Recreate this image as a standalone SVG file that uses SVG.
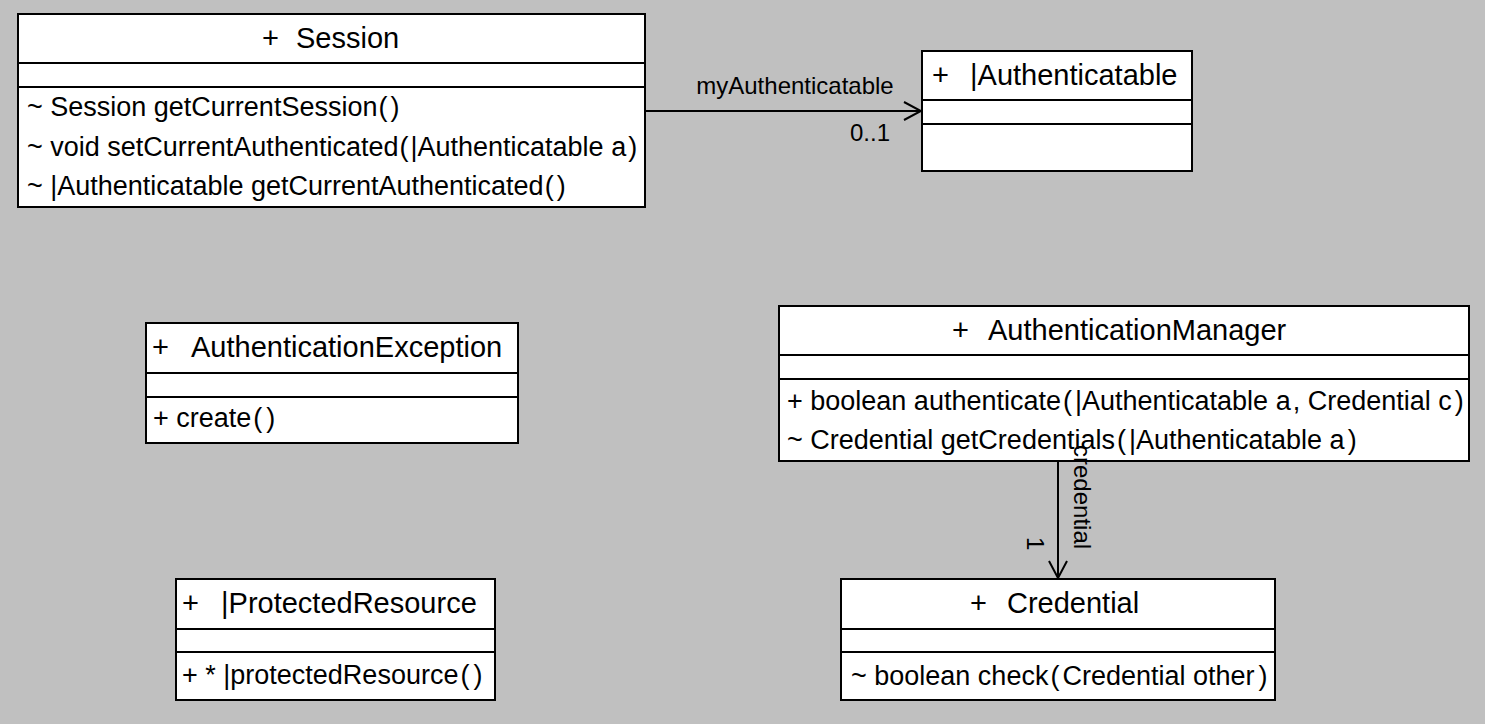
<svg xmlns="http://www.w3.org/2000/svg" width="1485" height="724" viewBox="0 0 1485 724">
<style>
.box{fill:#fff;stroke:#000;stroke-width:2}
.div{stroke:#000;stroke-width:2}
.t{font-family:"Liberation Sans",Arial,sans-serif;font-size:29px;fill:#000}
.m{font-family:"Liberation Sans",Arial,sans-serif;font-size:27px;fill:#000}
.l{font-family:"Liberation Sans",Arial,sans-serif;font-size:24px;fill:#000}
.c{stroke:#000;stroke-width:2;fill:none}
</style>
<defs>
<marker id="open" viewBox="0 0 20 20" refX="18" refY="10" markerWidth="20" markerHeight="20" markerUnits="userSpaceOnUse" orient="auto">
<path d="M1,1 L18,10 L1,19" fill="none" stroke="#000" stroke-width="2"/>
</marker>
</defs>
<rect width="1485" height="724" fill="#c0c0c0"/>
<g id="Session">
<rect class="box" x="18" y="14" width="627" height="193"/>
<line class="div" x1="18" y1="63" x2="645" y2="63"/>
<line class="div" x1="18" y1="87" x2="645" y2="87"/>
<text class="t" x="262" y="48">+ <tspan x="296">Session</tspan></text>
<text class="m" x="27" y="116">~ Session getCurrentSession<tspan dx="1">(</tspan><tspan dx="3">)</tspan></text>
<text class="m" x="27" y="156">~ void setCurrentAuthenticated<tspan dx="1">(</tspan><tspan dx="2">|Authenticatable a</tspan><tspan dx="2">)</tspan></text>
<text class="m" x="27" y="195">~ |Authenticatable getCurrentAuthenticated<tspan dx="1">(</tspan><tspan dx="3">)</tspan></text>
</g>
<g id="Authenticatable">
<rect class="box" x="922" y="51" width="270" height="120"/>
<line class="div" x1="922" y1="100" x2="1192" y2="100"/>
<line class="div" x1="922" y1="124" x2="1192" y2="124"/>
<text class="t" x="932" y="85">+ <tspan x="970">|Authenticatable</tspan></text>
</g>
<g id="AuthenticationException">
<rect class="box" x="146" y="323" width="372" height="120"/>
<line class="div" x1="146" y1="373" x2="518" y2="373"/>
<line class="div" x1="146" y1="397" x2="518" y2="397"/>
<text class="t" x="152" y="357">+ <tspan x="191">AuthenticationException</tspan></text>
<text class="m" x="153" y="427">+ create<tspan dx="2">(</tspan><tspan dx="4">)</tspan></text>
</g>
<g id="ProtectedResource">
<rect class="box" x="176" y="579" width="319" height="121"/>
<line class="div" x1="176" y1="629" x2="495" y2="629"/>
<line class="div" x1="176" y1="652" x2="495" y2="652"/>
<text class="t" x="182" y="613">+ <tspan x="221">|ProtectedResource</tspan></text>
<text class="m" x="182" y="684">+ * |protectedResource<tspan dx="2">(</tspan><tspan dx="4">)</tspan></text>
</g>
<g id="AuthenticationManager">
<rect class="box" x="779" y="306" width="690" height="155"/>
<line class="div" x1="779" y1="355" x2="1469" y2="355"/>
<line class="div" x1="779" y1="379" x2="1469" y2="379"/>
<text class="t" x="952" y="340">+ <tspan x="988">AuthenticationManager</tspan></text>
<text class="m" x="787" y="410">+ boolean authenticate<tspan dx="2">(</tspan><tspan dx="3">|Authenticatable a</tspan><tspan dx="2">,</tspan> Credential c<tspan dx="3">)</tspan></text>
<text class="m" x="787" y="449">~ Credential getCredentials<tspan dx="2">(</tspan><tspan dx="3">|Authenticatable a</tspan><tspan dx="3">)</tspan></text>
</g>
<g id="Credential">
<rect class="box" x="841" y="579" width="434" height="121"/>
<line class="div" x1="841" y1="629" x2="1275" y2="629"/>
<line class="div" x1="841" y1="652" x2="1275" y2="652"/>
<text class="t" x="970" y="613">+ <tspan x="1007">Credential</tspan></text>
<text class="m" x="851" y="685">~ boolean check<tspan dx="2">(</tspan><tspan dx="3">Credential other</tspan><tspan dx="4">)</tspan></text>
</g>
<g id="connectors">
<line class="c" x1="645" y1="111" x2="921" y2="111" marker-end="url(#open)"/>
<text class="l" x="795" y="94" text-anchor="middle">myAuthenticatable</text>
<text class="l" x="890" y="141" text-anchor="end">0..1</text>
<line class="c" x1="1058" y1="461" x2="1058" y2="578" marker-end="url(#open)"/>
<text class="l" transform="translate(1074,445) rotate(90)">credential</text>
<text class="l" transform="translate(1027,537) rotate(90)">1</text>
</g>
</svg>
